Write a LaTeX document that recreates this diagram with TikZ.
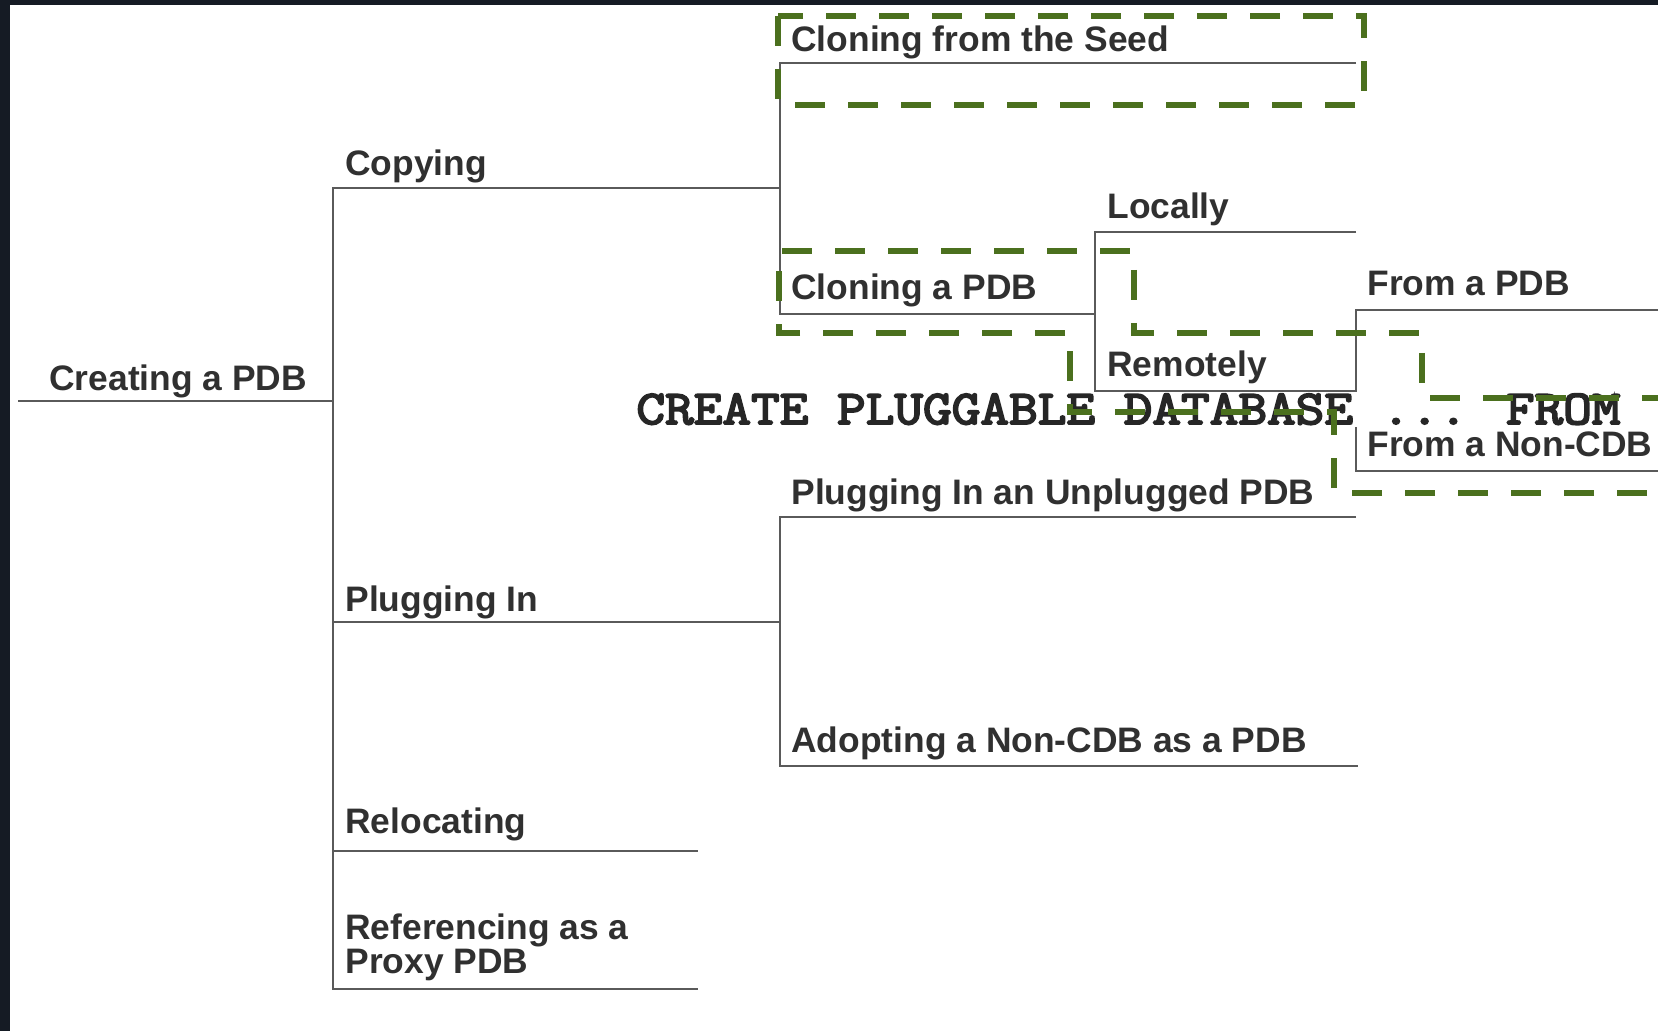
\documentclass[tikz,border=0pt]{standalone}
\usepackage{fontspec}
\setmainfont{Liberation Sans}
\newfontfamily\codefont{Latin Modern Mono}[FakeStretch=1.15,FakeBold=4]
\usetikzlibrary{positioning}

\definecolor{framedark}{HTML}{151B24}
\definecolor{treeline}{HTML}{5A5A5A}
\definecolor{labeltext}{HTML}{303030}
\definecolor{hlgreen}{HTML}{4B701E}

\begin{document}
\begin{tikzpicture}[x=0.5pt,y=-0.5pt,
	branch/.style={draw=treeline,line width=1.3pt},
	lbl/.style={anchor=base west,inner sep=0pt,text=labeltext,align=left,
		font=\fontsize{17.7}{17}\selectfont\bfseries},
	code/.style={anchor=base west,inner xsep=0pt,inner ysep=1pt,fill=white,
		text=black!85,font=\fontsize{24.2}{26}\selectfont\codefont},
	highlight/.style={draw=hlgreen,line width=2.8pt,dash pattern=on 15pt off 11.5pt}]

	\useasboundingbox (0,0) rectangle (1658,1031);
	\clip (0,0) rectangle (1658,1031);
	\fill[framedark] (0,0) rectangle (1658,1031);
	\fill[white] (10,5) rectangle (1658,1031);

	% branch points
	\coordinate (root) at (18,401);
	\coordinate (trunk) at (333,401);
	\coordinate (copyS) at (333,188);   \coordinate (copyE) at (780,188);
	\coordinate (plugS) at (333,622);   \coordinate (plugE) at (780,622);
	\coordinate (relocS) at (333,851);  \coordinate (relocE) at (698,851);
	\coordinate (proxyS) at (333,989);  \coordinate (proxyE) at (698,989);
	\coordinate (seedS) at (780,63);    \coordinate (seedE) at (1356,63);
	\coordinate (cloneS) at (780,314);  \coordinate (cloneE) at (1095,314);
	\coordinate (localS) at (1095,232); \coordinate (localE) at (1356,232);
	\coordinate (remoteS) at (1095,391);\coordinate (remoteE) at (1356,391);
	\coordinate (pdbS) at (1356,310);   \coordinate (pdbE) at (1660,310);
	\coordinate (noncdbS) at (1356,471);\coordinate (noncdbE) at (1660,471);
	\coordinate (unplugS) at (780,517); \coordinate (unplugE) at (1356,517);
	\coordinate (adoptS) at (780,766);  \coordinate (adoptE) at (1358,766);

	% tree
	\draw[branch] (root) -- (trunk);
	\draw[branch] (copyE) -- (copyS) -- (proxyS) -- (proxyE);
	\draw[branch] (plugS) -- (plugE);
	\draw[branch] (relocS) -- (relocE);
	\draw[branch] (seedE) -- (seedS) -- (cloneS) -- (cloneE);
	\draw[branch] (localE) -- (localS) -- (remoteS) -- (remoteE);
	\draw[branch] (pdbE) -- (pdbS) -- (noncdbS) -- (noncdbE);
	\draw[branch] (unplugE) -- (unplugS) -- (adoptS) -- (adoptE);

	% labels
	\node[lbl] (creating) at ([shift={(31,-10)}]root) {Creating a PDB};
	\node[lbl] (copying) at ([shift={(12,-12)}]copyS) {Copying};
	\node[lbl] (seed) at ([shift={(11,-11)}]seedS) {Cloning from the Seed};
	\node[lbl] (clonepdb) at ([shift={(11,-14)}]cloneS) {Cloning a PDB};
	\node[lbl] (locally) at ([shift={(12,-13)}]localS) {Locally};
	\node[lbl] (remotely) at ([shift={(12,-14)}]remoteS) {Remotely};
	\node[lbl] (frompdb) at ([shift={(11,-14)}]pdbS) {From a PDB};
	\node[lbl] (fromnoncdb) at ([shift={(11,-14)}]noncdbS) {From a Non-CDB};
	\node[lbl] (unplugged) at ([shift={(11,-13)}]unplugS) {Plugging In an Unplugged PDB};
	\node[lbl] (plugging) at ([shift={(12,-11)}]plugS) {Plugging In};
	\node[lbl] (adopting) at ([shift={(11,-14)}]adoptS) {Adopting a Non-CDB as a PDB};
	\node[lbl] (relocating) at ([shift={(12,-18)}]relocS) {Relocating};
	\node[lbl] (proxy) at ([shift={(12,-16)}]proxyS) {Referencing as a\\Proxy PDB};

	\node[code] (stmt) at (636,424) {CREATE PLUGGABLE DATABASE ... FROM};

	% highlights
	\draw[highlight] (778,16) rectangle (1364,105);
	\draw[highlight] (1700,493) -- (1334,493) -- (1334,412) -- (1070,412) -- (1070,333)
		-- (779,333) -- (779,251) -- (1134,251) -- (1134,333) -- (1422,333)
		-- (1422,398) -- (1700,398);

\end{tikzpicture}
\end{document}
